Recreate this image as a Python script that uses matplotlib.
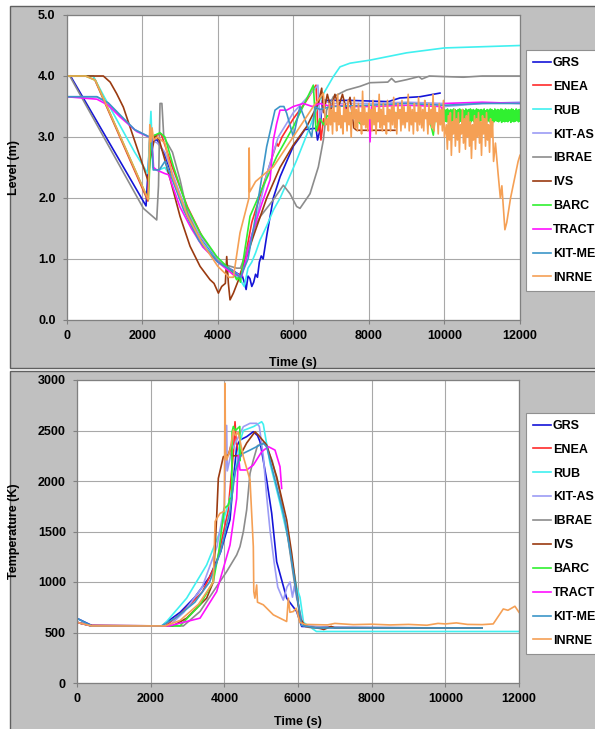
import numpy as np
import matplotlib.pyplot as plt
from matplotlib.patches import Rectangle

plt.rcParams['font.family'] = ['Liberation Sans', 'DejaVu Sans']
plt.rcParams['font.weight'] = 'bold'

names = ['GRS', 'ENEA', 'RUB', 'KIT-AS', 'IBRAE', 'IVS', 'BARC', 'TRACT', 'KIT-ME', 'INRNE']
colors = ['#1414d8', '#ff2b2b', '#40f0f0', '#9c9cf5', '#8c8c8c',
          '#9a3a10', '#30f030', '#ff10ff', '#3c96c8', '#f5a055']

# ---- collapsed level (m), (time s, value) ----
grs_level = [(100, 4.0), (2100, 1.87), (2200, 2.95), (2400, 2.95), (2600, 2.7), (2800, 2.35),
             (3000, 2.0), (3300, 1.6), (3600, 1.3), (4000, 0.95), (4300, 0.85), (4550, 0.75),
             (4650, 0.72), (4700, 0.62), (4750, 0.5), (4800, 0.72), (4850, 0.68), (4900, 0.55),
             (4950, 0.62), (5000, 0.75), (5050, 0.7), (5100, 0.95), (5150, 1.05), (5200, 1.0),
             (5300, 1.4), (5470, 2.0), (5650, 2.35), (5823, 2.6), (6000, 2.85), (6176, 3.0),
             (6300, 3.12), (6530, 3.14), (6600, 3.14), (6640, 2.95), (6700, 3.1), (6770, 3.6),
             (7500, 3.6), (8513, 3.58), (8822, 3.64), (9352, 3.66), (9882, 3.72)]
enea_level = [(100, 4.0), (700, 4.0), (2150, 1.95), (2200, 3.0), (2500, 3.05), (2800, 2.5),
              (3200, 1.85), (3600, 1.35), (4000, 1.0), (4400, 0.75), (4550, 0.68), (4700, 0.95),
              (4900, 1.6), (5200, 2.2), (5558, 2.9), (5600, 2.85), (5700, 3.0), (6000, 3.3),
              (6300, 3.55), (6600, 3.85), (6650, 3.1), (6700, 3.25), (6730, 2.95), (6800, 3.3),
              (6900, 3.2)]
rub_level = [(0, 4.0), (700, 4.0), (1000, 3.65), (1400, 3.2), (1800, 2.75), (2150, 2.4),
             (2230, 3.42), (2280, 2.5), (2400, 2.45), (2600, 2.5), (2800, 2.3), (3100, 1.85),
             (3500, 1.35), (4000, 0.95), (4400, 0.78), (4600, 0.65), (4700, 0.55), (4750, 0.7),
             (4800, 0.85), (4900, 0.95), (5000, 1.1), (5117, 1.31), (5300, 1.55), (5470, 1.8),
             (5650, 2.0), (5823, 2.24), (6088, 2.62), (6300, 2.95), (6441, 3.17), (6705, 3.61),
             (7058, 3.99), (7235, 4.15), (7500, 4.21), (8028, 4.26), (9000, 4.38), (10000, 4.46),
             (11000, 4.48), (12000, 4.5)]
kitas_level = [(0, 3.66), (800, 3.66), (1100, 3.55), (1400, 3.36), (1800, 3.12), (2200, 3.0),
               (2260, 2.95), (2400, 2.9), (2600, 2.75), (2800, 2.4), (3100, 1.9), (3500, 1.4),
               (4000, 1.0), (4400, 0.8), (4600, 0.72), (4800, 1.1), (5000, 1.6), (5300, 2.4),
               (5600, 3.0), (6000, 3.4), (6300, 3.6), (6650, 3.85), (6700, 3.3), (6800, 3.6),
               (7000, 3.55), (8000, 3.55), (9000, 3.57), (9950, 3.55), (10000, 3.5),
               (11000, 3.55), (12000, 3.57)]
ibrae_level = [(80, 4.0), (2030, 1.83), (2383, 1.64), (2430, 2.2), (2470, 3.55), (2520, 3.55),
               (2570, 3.0), (2800, 2.75), (3000, 2.3), (3200, 1.75), (3616, 1.2), (4057, 0.93),
               (4500, 0.85), (4600, 0.85), (4800, 1.2), (5000, 1.55), (5117, 1.69), (5470, 1.97),
               (5735, 2.21), (5911, 2.07), (6088, 1.86), (6176, 1.83), (6441, 2.07), (6662, 2.51),
               (6794, 2.95), (6882, 3.44), (7058, 3.66), (7411, 3.77), (7764, 3.83), (8028, 3.89),
               (8500, 3.9), (8600, 3.96), (8700, 3.9), (9000, 3.94), (9323, 3.99), (9400, 3.95),
               (9600, 4.0), (10013, 3.99), (10500, 3.98), (11000, 4.0), (12000, 4.0)]
ivs_level = [(0, 4.0), (970, 4.0), (1150, 3.9), (1323, 3.71), (1499, 3.49), (2161, 2.27),
             (2200, 2.6), (2340, 3.03), (2450, 2.95), (2700, 2.4), (3000, 1.7), (3265, 1.21),
             (3530, 0.88), (3795, 0.66), (3900, 0.6), (4016, 0.44), (4104, 0.55), (4200, 0.6),
             (4236, 1.04), (4280, 0.6), (4324, 0.33), (4412, 0.44), (4588, 0.72), (4941, 1.37),
             (5295, 2.0), (5647, 2.5), (6000, 2.87), (6353, 3.17), (6662, 3.55), (6750, 3.8),
             (6800, 3.4), (6900, 3.7), (7000, 3.45), (7100, 3.7), (7200, 3.5), (7300, 3.7),
             (7400, 3.45), (7500, 3.65), (7600, 3.15), (7676, 3.11), (8690, 3.11)]
barc_level = [(0, 4.0), (500, 4.0), (760, 3.93), (2161, 1.97), (2230, 3.0), (2470, 3.07),
              (2600, 3.0), (2823, 2.52), (3177, 1.86), (3530, 1.43), (3971, 1.04), (4412, 0.77),
              (4500, 0.66), (4550, 0.7), (4600, 0.62), (4676, 0.99), (4853, 1.7), (5118, 2.08),
              (5559, 2.68), (6000, 3.17), (6529, 3.85), (6600, 3.1), (6700, 3.3), (6800, 3.2),
              (6900, 3.35), (7200, 3.25), (7500, 3.4), (7800, 3.2), (8100, 3.35), (8400, 3.25),
              (8700, 3.4), (9000, 3.3), (9300, 3.35), (9600, 3.3), (9705, 3.03), (9750, 3.3),
              (9950, 3.35)]
barc_band = [3.45, 3.26, 3.44, 3.25, 3.46, 3.27, 3.43, 3.25, 3.45, 3.26,
             3.44, 3.24, 3.46, 3.27, 3.45, 3.25, 3.43, 3.26, 3.45, 3.24,
             3.46, 3.26, 3.44, 3.25, 3.45, 3.27, 3.43, 3.25, 3.46, 3.26,
             3.44, 3.24, 3.45, 3.26, 3.46, 3.25, 3.44, 3.27, 3.45, 3.25,
             3.43, 3.26, 3.46, 3.24, 3.45, 3.26, 3.44, 3.25, 3.45, 3.27,
             3.44, 3.25, 3.46, 3.26, 3.43, 3.24, 3.45, 3.27, 3.44, 3.25,
             3.46, 3.26, 3.45, 3.24, 3.43, 3.25, 3.46, 3.27, 3.44, 3.26,
             3.45, 3.25, 3.44, 3.27, 3.46, 3.24, 3.45, 3.26, 3.43, 3.25,
             3.46, 3.26, 3.44, 3.25, 3.45, 3.27, 3.44, 3.24, 3.46, 3.26,
             3.45, 3.25, 3.43, 3.26, 3.46, 3.27, 3.44, 3.25, 3.45, 3.26]
tract_level = [(0, 3.66), (800, 3.62), (1100, 3.52), (1410, 3.33), (1854, 3.09), (2250, 2.98),
               (2300, 2.5), (2380, 2.46), (2600, 2.4), (2700, 2.38), (2800, 2.2), (3000, 1.85),
               (3300, 1.5), (3600, 1.2), (4000, 0.95), (4400, 0.75), (4632, 0.71), (4900, 1.4),
               (5166, 1.91), (5385, 2.3), (5470, 2.95), (5558, 3.22), (5647, 3.44), (5823, 3.44),
               (6000, 3.5), (6264, 3.55), (6500, 3.5), (6700, 3.55), (7000, 3.5), (7350, 3.52),
               (7400, 3.35), (7450, 3.5), (8000, 3.5), (8030, 2.92), (8070, 3.5), (9000, 3.52),
               (9900, 3.5), (9950, 3.45), (10000, 3.55), (11000, 3.57), (12000, 3.55)]
kitme_level = [(0, 3.66), (800, 3.66), (1100, 3.56), (1400, 3.37), (1800, 3.12), (2250, 2.98),
               (2290, 2.46), (2450, 2.46), (2600, 2.6), (2800, 2.3), (3100, 1.8), (3500, 1.3),
               (4000, 0.95), (4400, 0.8), (4600, 0.7), (4800, 1.0), (5000, 1.7), (5293, 2.84),
               (5514, 3.44), (5647, 3.5), (5750, 3.5), (5823, 3.39), (6000, 3.0), (6176, 3.5),
               (6300, 3.3), (6485, 3.0), (6573, 3.5), (6700, 3.45), (7000, 3.5), (8000, 3.52),
               (9000, 3.55), (10000, 3.52), (11000, 3.55), (12000, 3.55)]
inrne_level = [(0, 4.0), (500, 4.0), (760, 3.93), (2161, 1.97), (2200, 3.2), (2230, 2.92),
               (2260, 3.15), (2300, 2.95), (2400, 3.0), (2600, 2.9), (2800, 2.35), (3200, 1.7),
               (3600, 1.25), (4000, 0.88), (4300, 0.7), (4412, 0.7), (4588, 1.43), (4765, 1.86),
               (4825, 2.0), (4830, 2.82), (4845, 2.1), (5000, 2.27), (5265, 2.41), (5470, 2.51),
               (5823, 2.84), (6176, 3.17), (6529, 3.5), (6794, 3.72), (6850, 3.2)]
inrne_noise_a = [3.3, 3.1, 3.55, 3.2, 3.45, 3.05, 3.6, 3.25, 3.4, 3.1, 3.7, 3.2, 3.5, 3.15,
                 3.35, 3.05, 3.55, 3.25, 3.45, 3.1, 3.6, 3.2, 3.4, 3.0, 3.5, 3.3, 3.65, 3.15,
                 3.45, 3.1, 3.55, 3.25, 3.4, 3.05, 3.75, 3.2, 3.5, 3.15, 3.4, 3.1, 3.55, 3.3,
                 3.45, 3.1, 3.6, 3.2, 3.5, 3.05, 3.4, 3.25, 3.7, 3.15, 3.45, 3.1, 3.55, 3.2,
                 3.35, 3.05, 3.6, 3.25, 3.45, 3.1, 3.5, 3.2, 3.65, 3.15, 3.4, 3.05, 3.55, 3.3,
                 3.45, 3.1, 3.6, 3.2, 3.5, 3.15, 3.4, 3.25, 3.7, 3.1, 3.5, 3.2, 3.45, 3.05,
                 3.55, 3.25, 3.4, 3.1, 3.65, 3.2, 3.5, 3.15, 3.45, 3.1, 3.6, 3.3, 3.4, 3.05,
                 3.55, 3.2, 3.45, 3.15, 3.7, 3.1, 3.5, 3.25, 3.4, 3.05, 3.55, 3.2, 3.45, 3.1,
                 3.6, 3.0]
inrne_noise_b = [3.2, 2.8, 3.35, 2.95, 3.4, 2.7, 3.25, 3.05, 3.45, 2.85, 3.3, 2.95, 3.4, 2.75,
                 3.2, 3.05, 3.45, 2.9, 3.3, 2.8, 3.35, 3.0, 3.4, 2.85, 3.25, 2.65, 3.2, 2.95,
                 3.35, 2.8, 3.3, 3.0, 3.4, 2.9, 3.25, 2.7, 3.35, 3.05, 3.3, 2.85, 3.4, 2.95,
                 3.2, 2.75, 3.3, 3.0, 3.25, 2.6]
inrne_tail = [(11350, 2.9), (11420, 2.4), (11480, 2.0), (11520, 2.2), (11600, 1.48),
              (11650, 1.6), (11750, 2.0), (11850, 2.3), (11950, 2.6), (12000, 2.7)]

# ---- maximum cladding temperature (K) ----
grs_temp = [(0, 640), (400, 570), (2300, 565), (2500, 620), (2800, 700), (3200, 850),
            (3600, 1050), (3900, 1300), (4154, 1617), (4245, 2010), (4335, 2340), (4425, 2406),
            (4606, 2439), (4787, 2488), (4900, 2450), (4969, 2389), (5150, 2010), (5286, 1680),
            (5421, 1200), (5692, 840), (5964, 708), (6100, 560), (7000, 550), (10000, 545)]
enea_temp = [(0, 600), (400, 570), (2400, 565), (2800, 680), (3400, 900), (3800, 1200),
             (4100, 1700), (4250, 2300), (4290, 2587), (4320, 2400), (4400, 2250), (4440, 2241)]
rub_temp = [(0, 600), (400, 565), (2300, 565), (2434, 609), (2977, 840), (3520, 1169),
            (3883, 1498), (4154, 1828), (4335, 2157), (4425, 2387), (4516, 2500), (4800, 2540),
            (5014, 2587), (5059, 2560), (5100, 2472), (5240, 2175), (5512, 1779), (5738, 1416),
            (5964, 947), (6055, 848), (6150, 600), (6500, 510), (12000, 510)]
kitas_temp = [(0, 600), (400, 565), (2500, 565), (2900, 700), (3400, 950), (3800, 1350),
              (4000, 1750), (4063, 2550), (4080, 2100), (4200, 2300), (4400, 2450), (4516, 2538),
              (4697, 2571), (4878, 2571), (4950, 2540), (5059, 2241), (5150, 1845), (5240, 1515),
              (5350, 1200), (5450, 950), (5600, 820), (5700, 950), (5783, 1000), (5850, 850),
              (5900, 960), (5964, 840), (6050, 700), (6150, 570), (7000, 545), (11000, 545)]
ibrae_temp = [(0, 600), (400, 565), (2887, 565), (3340, 708), (3700, 905), (4063, 1103),
              (4335, 1268), (4425, 1350), (4516, 1498), (4606, 1713), (4697, 2075), (4787, 2207),
              (4900, 2350), (5100, 2380), (5300, 2200), (5500, 1900), (5700, 1500), (5900, 1000),
              (6100, 600), (6300, 550), (11000, 545)]
ivs_temp = [(0, 600), (400, 565), (2600, 565), (2977, 642), (3520, 840), (3700, 1000),
            (3792, 1646), (3837, 2026), (3973, 2241), (4109, 2257), (4180, 2350), (4200, 2250),
            (4425, 2250), (4606, 2376), (4833, 2488), (4924, 2455), (5150, 2356), (5421, 2043),
            (5693, 1614), (5829, 1284), (6055, 641), (6200, 560), (6600, 540), (6700, 530),
            (6900, 560), (7000, 545), (11000, 545)]
barc_temp = [(0, 600), (400, 565), (2797, 565), (3340, 774), (3700, 1004), (3850, 1300),
             (4000, 1729), (4109, 1762), (4154, 1828), (4200, 1830), (4210, 2486), (4245, 2540),
             (4300, 2500), (4420, 2540), (4425, 2200), (4440, 2300)]
tract_temp = [(0, 600), (400, 565), (2500, 565), (3340, 642), (3792, 905), (4154, 1366),
              (4335, 1828), (4380, 2256), (4425, 2109), (4606, 2109), (4787, 2158), (5014, 2290),
              (5195, 2340), (5376, 2306), (5512, 2141), (5557, 1927)]
kitme_temp = [(0, 640), (400, 565), (2300, 565), (2700, 650), (3200, 800), (3600, 1000),
              (3900, 1300), (4150, 1700), (4300, 2100), (4425, 2241), (4516, 2274), (4697, 2306),
              (4878, 2340), (5059, 2372), (5150, 2340), (5240, 2208), (5421, 1944), (5648, 1614),
              (5783, 1317), (6000, 800), (6100, 570), (6500, 545), (11000, 545)]
inrne_temp = [(0, 600), (400, 565), (2400, 565), (2800, 620), (3300, 780), (3700, 1000),
              (3750, 1600), (3883, 1680), (4000, 1700), (4020, 2967), (4030, 2300), (4063, 2208),
              (4150, 2300), (4245, 2505), (4300, 2450), (4380, 2480), (4516, 2241), (4697, 2010),
              (4787, 1350), (4800, 905), (4830, 840), (4878, 971), (4900, 800), (5059, 774),
              (5330, 675), (5692, 609), (5738, 840), (5780, 700), (5874, 708), (5950, 740),
              (6050, 600), (6200, 580), (6800, 575), (7000, 590), (7500, 578), (8000, 582),
              (8500, 575), (9000, 580), (9500, 572), (9800, 590), (10000, 585), (10300, 595),
              (10600, 580), (11000, 578), (11300, 585), (11573, 733), (11700, 720),
              (11889, 760), (12000, 700)]

level_series = [grs_level, enea_level, rub_level, kitas_level, ibrae_level,
                ivs_level, barc_level, tract_level, kitme_level, inrne_level]
temp_series = [grs_temp, enea_temp, rub_temp, kitas_temp, ibrae_temp,
               ivs_temp, barc_temp, tract_temp, kitme_temp, inrne_temp]


def xy(pairs):
    a = np.array(pairs, dtype=float)
    return a[:, 0], a[:, 1]


W, H = 595, 729
fig = plt.figure(figsize=(W / 100, H / 100), dpi=100)
fig.patch.set_facecolor('white')
for top, bot in [(6, 368), (371, 735)]:
    fig.patches.append(Rectangle((10 / W, 1 - bot / H), 1.0, (bot - top) / H,
                                 transform=fig.transFigure, facecolor='#c0c0c0',
                                 edgecolor='#606060', linewidth=1.0, zorder=-5))

ax1 = fig.add_axes([66.7 / W, 1 - 320 / H, 453.3 / W, 305 / H])
ax2 = fig.add_axes([77 / W, 1 - 683 / H, 442 / W, 303 / H])


def style(ax, ymax, step):
    ax.set_facecolor('white')
    ax.set_xlim(0, 12000)
    ax.set_ylim(0, ymax)
    ax.set_xticks(range(0, 12001, 2000))
    ax.set_yticks(np.arange(0, ymax + step / 2, step))
    ax.grid(True, color='#a8a8a8', linewidth=0.8)
    ax.set_axisbelow(True)
    for s in ax.spines.values():
        s.set_color('#808080')
        s.set_linewidth(0.9)
    ax.tick_params(direction='out', length=3, width=0.8, color='#808080', labelsize=9)
    ax.tick_params(axis='x', pad=4)
    ax.tick_params(axis='y', pad=5)


lines = []
for i, pairs in enumerate(level_series):
    t, v = xy(pairs)
    if names[i] == 'BARC':
        t = np.concatenate([t, np.linspace(10000, 12000, len(barc_band))])
        v = np.concatenate([v, barc_band])
    if names[i] == 'INRNE':
        tt, tv = xy(inrne_tail)
        t = np.concatenate([t, np.linspace(6900, 10000, len(inrne_noise_a)),
                            np.linspace(10050, 11300, len(inrne_noise_b)), tt])
        v = np.concatenate([v, inrne_noise_a, inrne_noise_b, tv])
    ln, = ax1.plot(t, v, color=colors[i], lw=1.2, label=names[i])
    lines.append(ln)

for i, pairs in enumerate(temp_series):
    t, v = xy(pairs)
    ax2.plot(t, v, color=colors[i], lw=1.2)

style(ax1, 5.0, 1.0)
ax1.yaxis.set_major_formatter(plt.FormatStrFormatter('%.1f'))
style(ax2, 3000, 500)

ax1.set_xlabel('Time (s)', fontsize=9, fontweight='bold')
ax1.set_ylabel('Level (m)', fontsize=9, fontweight='bold')
ax1.xaxis.set_label_coords(0.5, -0.12)
ax1.yaxis.set_label_coords(-0.103, 0.5)
ax2.set_xlabel('Time (s)', fontsize=9, fontweight='bold')
ax2.set_ylabel('Temperature (K)', fontsize=9, fontweight='bold')
ax2.xaxis.set_label_coords(0.5, -0.11)
ax2.yaxis.set_label_coords(-0.13, 0.5)

for y0 in (50, 413):
    leg = fig.legend(lines, names, loc='upper left', bbox_to_anchor=(526 / W, 1 - y0 / H),
                     bbox_transform=fig.transFigure, fontsize=9, frameon=True,
                     fancybox=False, edgecolor='#909090', framealpha=1.0,
                     handlelength=1.45, handletextpad=0.15, labelspacing=0.95,
                     borderpad=0.55, borderaxespad=0)
    leg.get_frame().set_linewidth(0.8)

fig.savefig('out.png', dpi=100)
